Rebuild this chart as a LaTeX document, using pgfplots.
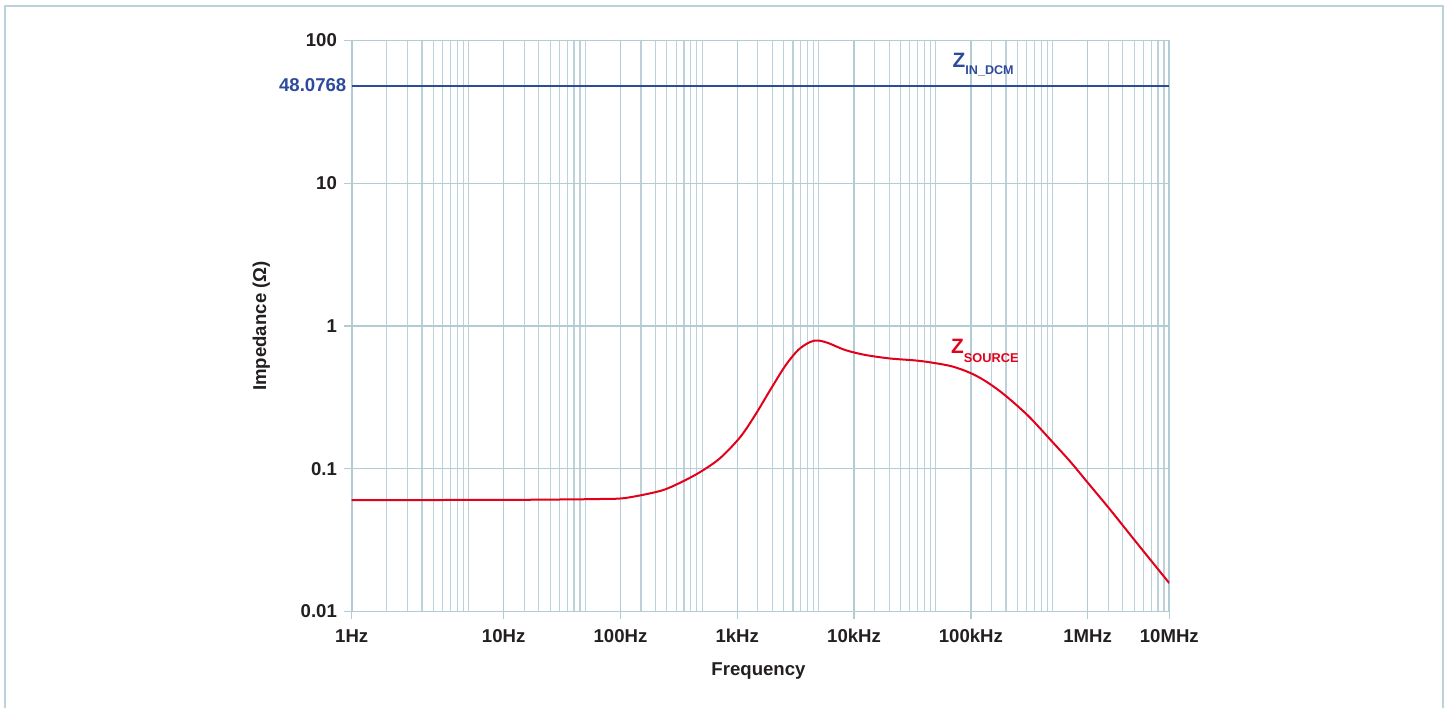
\documentclass[border=0pt]{standalone}
\usepackage{pgfplots}
\pgfplotsset{compat=1.18}
\usepackage{fontspec}
\setmainfont{Liberation Sans}
\definecolor{gridc}{HTML}{BCD2DA}
\definecolor{gridm}{HTML}{B3CBD3}
\definecolor{zblue}{HTML}{2E4B9B}
\definecolor{zred}{HTML}{E2001A}
\definecolor{txt}{HTML}{231F20}
\newcommand{\lab}{\fontsize{9.3}{11}\selectfont\bfseries}
\begin{document}
\begin{tikzpicture}
\useasboundingbox (0,0) rectangle (725pt,353.5pt);
\draw[gridc, line width=1pt] (2.25pt,-5pt) -- (2.25pt,350.5pt) -- (721.5pt,350.5pt) -- (721.5pt,-5pt);
\begin{axis}[
  at={(175.85pt,47.75pt)}, anchor=south west,
  scale only axis, width=408.8pt, height=285.5pt,
  xmode=log, ymode=log,
  xmin=0.5, xmax=5e6, ymin=0.01, ymax=100,
  xtick={0.5,10,100,1000,10000,100000,1000000,5000000},
  xticklabels={1Hz,10Hz,100Hz,1kHz,10kHz,100kHz,1MHz,10MHz},
  minor xtick={1,1.5,2,2.5,3,3.5,4,4.5,5,
    15,20,25,30,35,40,45,50,
    150,200,250,300,350,400,450,500,
    1500,2000,2500,3000,3500,4000,4500,5000,
    15000,20000,25000,30000,35000,40000,45000,50000,
    150000,200000,250000,300000,350000,400000,450000,500000,
    1500000,2000000,2500000,3000000,3500000,4000000,4500000},
  ytick={0.01,0.1,1,10,100},
  yticklabels={0.01,0.1,1,10,100},
  yminorticks=false,
  xtick pos=bottom, ytick pos=left,
  xmajorgrids, xminorgrids, ymajorgrids,
  major grid style={gridm, line width=0.7pt},
  minor grid style={gridc, line width=0.55pt},
  axis line style={gridm, line width=0.9pt},
  tick style={gridm, line width=0.7pt},
  major tick length=3.8pt, minor tick length=0pt, tick align=outside,
  ticklabel style={font=\lab, text=txt, inner sep=0pt},
  xticklabel style={anchor=north, text height=6.66pt, yshift=-4.6pt},
  yticklabel style={anchor=east, xshift=-3.4pt},
]
\addplot[zblue, line width=1.2pt] coordinates {(0.5,48.0768) (5e6,48.0768)};
\addplot[zred, line width=1pt, smooth, tension=0.5] coordinates {
(0.5,0.0604) (2,0.0604) (10,0.0605) (30,0.0609) (67,0.0614) (110,0.0624)
(220,0.0700) (326,0.0800) (483,0.0950) (716,0.119) (1062,0.167) (1424,0.238)
(1914,0.356) (2572,0.525) (3320,0.679) (4204,0.773) (4929,0.791) (6000,0.760)
(8390,0.679) (12450,0.627) (20400,0.592) (36850,0.569) (66650,0.525)
(98900,0.469) (132800,0.412) (178500,0.348) (240300,0.284) (322800,0.227)
(478800,0.160) (711000,0.112) (1000000,0.0800) (1564000,0.0515)
(2560000,0.0311) (5000000,0.0158)};
\end{axis}
\node[anchor=east, inner sep=0pt, font=\lab, text=zblue] at (173.35pt,311pt) {48.0768};
\node[anchor=base, inner sep=0pt, font=\lab, text=txt] at (379.25pt,16pt) {Frequency};
\node[anchor=base, rotate=90, inner sep=0pt, font=\lab, text=txt] at (133pt,190.5pt) {Impedance (Ω)};
\node[anchor=base west, inner sep=0pt, text=zblue, font=\fontsize{10.4}{12}\selectfont\bfseries] at (476.15pt,319.85pt) {Z\raisebox{-3.85pt}{\fontsize{6.3}{7}\selectfont\bfseries IN\_DCM}};
\node[anchor=base west, inner sep=0pt, text=zred, font=\fontsize{10.4}{12}\selectfont\bfseries] at (475.35pt,176.5pt) {Z\raisebox{-4.35pt}{\fontsize{6.4}{7}\selectfont\bfseries SOURCE}};
\end{tikzpicture}
\end{document}
